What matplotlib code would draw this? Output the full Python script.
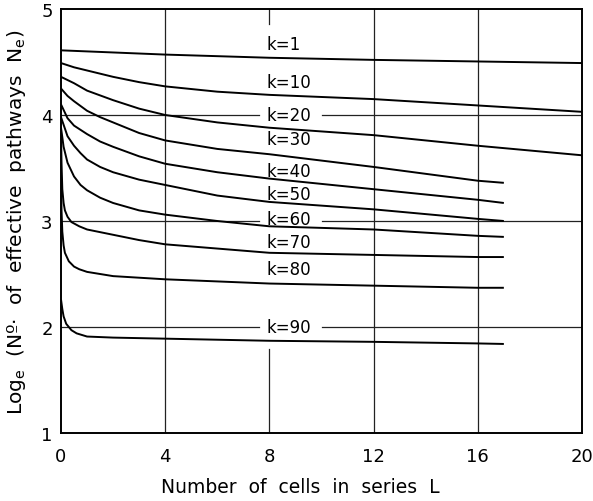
import numpy as np
import matplotlib
matplotlib.use("Agg")
import matplotlib.pyplot as plt

# values (L, log_e Ne) for each k
k_labels = ["k=1", "k=10", "k=20", "k=30", "k=40", "k=50", "k=60", "k=70", "k=80", "k=90"]

L_k1 = [0, 2, 4, 8, 12, 16, 20]
v_k1 = [4.61, 4.59, 4.57, 4.54, 4.52, 4.505, 4.49]

L_k10 = [0, 0.5, 1, 2, 3, 4, 6, 8, 12, 16, 20]
v_k10 = [4.49, 4.45, 4.42, 4.36, 4.31, 4.27, 4.22, 4.19, 4.15, 4.09, 4.03]

L_k20 = [0, 0.5, 1, 2, 3, 4, 6, 8, 12, 16, 20]
v_k20 = [4.36, 4.30, 4.23, 4.14, 4.06, 4.00, 3.93, 3.88, 3.81, 3.71, 3.62]

L_k30 = [0, 0.25, 0.5, 1, 1.5, 2, 3, 4, 6, 8, 12, 16, 17]
v_k30 = [4.25, 4.18, 4.13, 4.04, 3.98, 3.93, 3.83, 3.76, 3.68, 3.63, 3.51, 3.38, 3.36]

L_k40 = [0, 0.25, 0.5, 1, 1.5, 2, 3, 4, 6, 8, 12, 16, 17]
v_k40 = [4.10, 3.97, 3.90, 3.82, 3.75, 3.70, 3.61, 3.54, 3.46, 3.40, 3.30, 3.20, 3.17]

L_k50 = [0, 0.25, 0.5, 0.75, 1, 1.5, 2, 3, 4, 6, 8, 12, 16, 17]
v_k50 = [3.98, 3.80, 3.71, 3.64, 3.58, 3.51, 3.46, 3.39, 3.34, 3.24, 3.18, 3.11, 3.02, 3.00]

L_k60 = [0, 0.1, 0.25, 0.5, 0.75, 1, 1.5, 2, 3, 4, 6, 8, 12, 16, 17]
v_k60 = [3.88, 3.70, 3.55, 3.42, 3.34, 3.29, 3.22, 3.17, 3.10, 3.06, 3.00, 2.95, 2.92, 2.86, 2.85]

L_k70 = [0, 0.02, 0.05, 0.1, 0.15, 0.25, 0.4, 0.7, 1, 2, 3, 4, 6, 8, 12, 16, 17]
v_k70 = [3.85, 3.55, 3.30, 3.17, 3.10, 3.04, 2.99, 2.95, 2.92, 2.87, 2.82, 2.78, 2.74, 2.70, 2.68, 2.66, 2.66]

L_k80 = [0, 0.02, 0.05, 0.1, 0.15, 0.3, 0.5, 0.7, 1, 1.5, 2, 4, 8, 12, 16, 17]
v_k80 = [3.45, 3.10, 2.90, 2.77, 2.70, 2.62, 2.57, 2.545, 2.52, 2.50, 2.48, 2.45, 2.41, 2.39, 2.37, 2.37]

L_k90 = [0, 0.05, 0.1, 0.2, 0.4, 0.6, 1, 2, 4, 8, 12, 16, 17]
v_k90 = [2.26, 2.17, 2.10, 2.03, 1.97, 1.94, 1.91, 1.90, 1.89, 1.87, 1.86, 1.845, 1.84]

series_L = [L_k1, L_k10, L_k20, L_k30, L_k40, L_k50, L_k60, L_k70, L_k80, L_k90]
series_v = [v_k1, v_k10, v_k20, v_k30, v_k40, v_k50, v_k60, v_k70, v_k80, v_k90]

# label anchor (left edge x, centre y) in data units
label_x = [7.9, 7.9, 7.9, 7.9, 7.9, 7.9, 7.9, 7.9, 7.9, 7.9]
label_y = [4.67, 4.31, 4.0, 3.77, 3.47, 3.25, 3.02, 2.80, 2.55, 2.0]

x_ticks = [0, 4, 8, 12, 16, 20]
y_ticks = [1, 2, 3, 4, 5]

fig = plt.figure(figsize=(5.93, 5.02), dpi=100)
ax = fig.add_axes([61/593, 1 - 434/502, 521/593, 424/502])
ax.set_xlim(0, 20)
ax.set_ylim(1, 5)

# grid, broken where the k labels sit
gcol = "#222222"
for xv in [4, 12, 16]:
    ax.plot([xv, xv], [1, 5], color=gcol, lw=0.9, zorder=1)
ax.plot([8, 8], [1, 1.79], color=gcol, lw=0.9, zorder=1)
ax.plot([8, 8], [4.86, 5], color=gcol, lw=0.9, zorder=1)
for yv in [2, 3, 4]:
    ax.plot([0, 7.6], [yv, yv], color=gcol, lw=0.9, zorder=1)
    ax.plot([10.0, 20], [yv, yv], color=gcol, lw=0.9, zorder=1)

for Ls, vs in zip(series_L, series_v):
    ax.plot(Ls, vs, color="black", lw=1.4, zorder=3, solid_capstyle="butt",
            solid_joinstyle="round")

for lab, lx, ly in zip(k_labels, label_x, label_y):
    ax.text(lx, ly, lab, fontsize=12, ha="left", va="center", zorder=4)

for s in ax.spines.values():
    s.set_linewidth(1.4)

ax.set_xticks(x_ticks)
ax.set_yticks(y_ticks)
ax.tick_params(length=0, labelsize=13)
ax.tick_params(axis="y", pad=6)
ax.tick_params(axis="x", pad=10)

fig.text(300/593, 1 - 488/502, "Number  of  cells  in  series  L", fontsize=13.5,
         ha="center", va="center")
fig.text(17/593, 1 - 222/502, r"Log$_\mathrm{e}$  (Nº·  of  effective  pathways  N$_\mathrm{e}$)",
         fontsize=14.5, rotation=90, ha="center", va="center")

fig.savefig("out.png", dpi=100)
